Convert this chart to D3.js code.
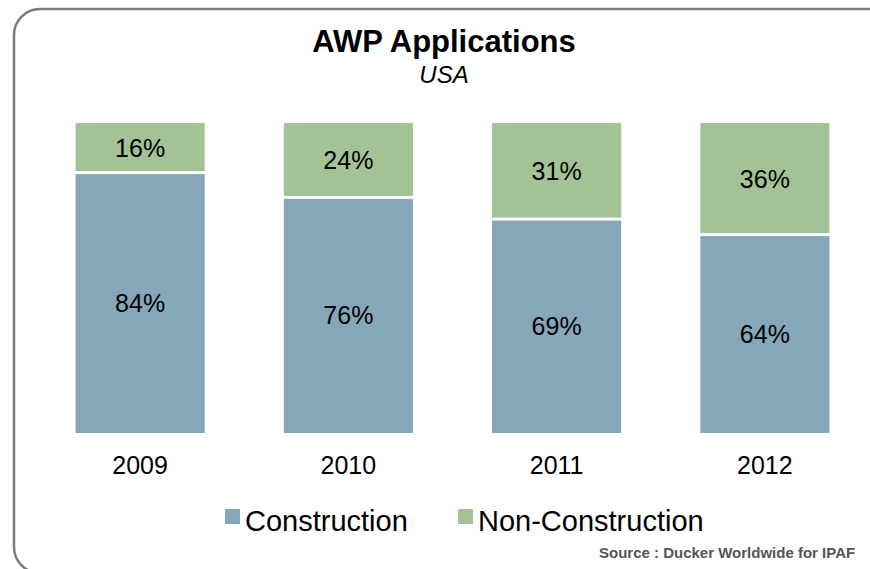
<!DOCTYPE html>
<html>
<head>
<meta charset="utf-8">
<script src="https://cdn.jsdelivr.net/npm/d3@7"></script>
<style>
  body { margin: 0; background: #fff; }
  svg { display: block; font-family: "Liberation Sans", Arial, sans-serif; }
</style>
</head>
<body>
<script>
const years = ["2009", "2010", "2011", "2012"];
const construction = [84, 76, 69, 64];
const nonConstruction = [16, 24, 31, 36];
const seriesNames = ["Construction", "Non-Construction"];
const colors = ["#86a6b9", "#a3c396"];

const width = 870, height = 569;

const svg = d3.select("body").append("svg")
  .attr("width", width)
  .attr("height", height);

// frame
svg.append("rect")
  .attr("x", 14).attr("y", 9)
  .attr("width", 900).attr("height", 564)
  .attr("rx", 26)
  .attr("fill", "none")
  .attr("stroke", "#7a7a7a")
  .attr("stroke-width", 2.5);

svg.append("text")
  .attr("x", 444).attr("y", 52)
  .attr("text-anchor", "middle")
  .attr("font-size", 31).attr("font-weight", "bold")
  .text("AWP Applications");

svg.append("text")
  .attr("x", 444).attr("y", 83)
  .attr("text-anchor", "middle")
  .attr("font-size", 24).attr("font-style", "italic")
  .text("USA");

const data = years.map((y, i) => ({year: y, Construction: construction[i], "Non-Construction": nonConstruction[i]}));
const stacked = d3.stack().keys(seriesNames)(data);

const x = d3.scaleBand()
  .domain(years)
  .range([36, 869])
  .paddingInner(0.38)
  .paddingOuter(0.19);

const y = d3.scaleLinear()
  .domain([0, 100])
  .range([433, 123]);

const groups = svg.selectAll("g.series")
  .data(stacked)
  .join("g")
  .attr("class", "series")
  .attr("fill", (d, i) => colors[i]);

groups.selectAll("rect")
  .data(d => d)
  .join("rect")
  .attr("x", d => x(d.data.year))
  .attr("width", x.bandwidth())
  .attr("y", d => y(d[1]) + (d[1] < 100 ? 1.5 : 0))
  .attr("height", d => y(d[0]) - y(d[1]) - (d[1] < 100 ? 1.5 : 0) - (d[0] > 0 ? 1.5 : 0));

groups.selectAll("text")
  .data(d => d)
  .join("text")
  .attr("x", d => x(d.data.year) + x.bandwidth() / 2)
  .attr("y", d => (y(d[0]) + y(d[1])) / 2 + 9)
  .attr("text-anchor", "middle")
  .attr("font-size", 25)
  .attr("fill", "#000")
  .text(d => (d[1] - d[0]) + "%");

const xAxis = d3.axisBottom(x).tickSize(0).tickPadding(0);
svg.append("g")
  .attr("transform", "translate(0,455)")
  .call(xAxis)
  .call(g => g.select(".domain").remove())
  .selectAll("text")
  .attr("font-size", 25)
  .attr("font-family", "Liberation Sans, Arial, sans-serif")
  .attr("fill", "#000")
  .attr("dy", "0.75em");

// legend
const legendX = [225, 458];
const legend = svg.selectAll("g.legend")
  .data(seriesNames)
  .join("g")
  .attr("class", "legend")
  .attr("transform", (d, i) => `translate(${legendX[i]},0)`);

legend.append("rect")
  .attr("x", 0).attr("y", 509)
  .attr("width", 15).attr("height", 15)
  .attr("fill", (d, i) => colors[i]);

legend.append("text")
  .attr("x", 20).attr("y", 531)
  .attr("font-size", 29)
  .text(d => d);

svg.append("text")
  .attr("x", 599).attr("y", 558)
  .attr("font-size", 15).attr("font-weight", "bold")
  .attr("fill", "#555")
  .text("Source : Ducker Worldwide for IPAF");
</script>
</body>
</html>
